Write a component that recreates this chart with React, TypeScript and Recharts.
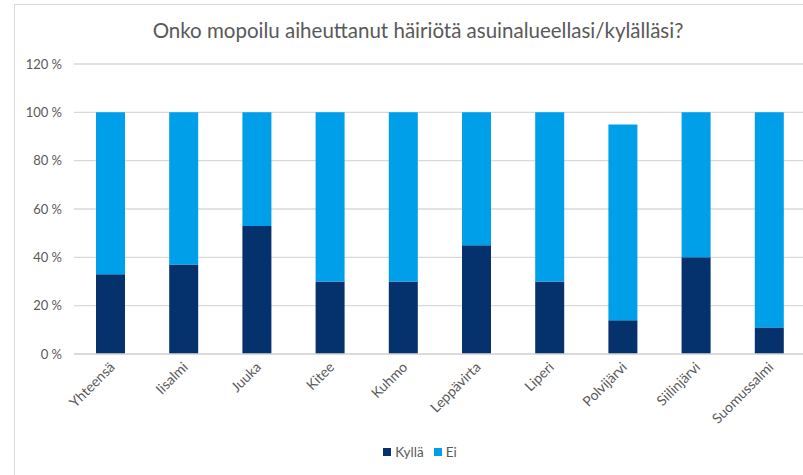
import React from "react";
import { BarChart, Bar, XAxis, YAxis, CartesianGrid } from "recharts";

const categories = ["Yhteensä", "Iisalmi", "Juuka", "Kitee", "Kuhmo", "Leppävirta", "Liperi", "Polvijärvi", "Siilinjärvi", "Suomussalmi"];
const kylla = [33, 37, 53, 30, 30, 45, 30, 14, 40, 11];
const ei = [67, 63, 47, 70, 70, 55, 70, 81, 60, 89];
const yTicks = [0, 20, 40, 60, 80, 100, 120];

const data = categories.map((name, i) => ({ name, kylla: kylla[i], ei: ei[i] }));

const FONT = "Lato, 'Open Sans', sans-serif";
const GREY = "#595959";
const DARK = "#05316D";
const LIGHT = "#009FEA";

function XTick({ x, y, payload }: any) {
  return (
    <text
      x={x + 5}
      y={y + 6}
      textAnchor="end"
      transform={`rotate(-45, ${x + 5}, ${y + 6})`}
      fill={GREY}
      fontSize={14}
      fontFamily={FONT}
    >
      {payload.value}
    </text>
  );
}

function LegendBox() {
  const items = [
    { label: "Kyllä", color: DARK },
    { label: "Ei", color: LIGHT },
  ];
  return (
    <div style={{ position: "absolute", left: 0, top: 444, width: 850, display: "flex", justifyContent: "center", fontFamily: FONT, fontSize: 13.5, color: GREY }}>
      {items.map((it) => (
        <div key={it.label} style={{ display: "flex", alignItems: "center", marginRight: 10 }}>
          <span style={{ width: 8, height: 8, background: it.color, display: "inline-block", marginRight: 4 }} />
          {it.label}
        </div>
      ))}
    </div>
  );
}

export default function App() {
  return (
    <div style={{ position: "fixed", left: 0, top: 0, width: 803, height: 475, overflow: "hidden", background: "#fff" }}>
      <div style={{ position: "absolute", left: 14, top: 4, width: 900, height: 500, borderLeft: "1.5px solid #d9d9d9", borderTop: "1.5px solid #d9d9d9" }} />
      <div style={{ position: "absolute", left: 0, top: 18, width: 836, textAlign: "center", fontFamily: FONT, fontSize: 20.5, color: GREY }}>
        Onko mopoilu aiheuttanut häiriötä asuinalueellasi/kylälläsi?
      </div>
      <div style={{ position: "absolute", left: 0, top: 0 }}>
        <BarChart width={830} height={475} data={data} margin={{ top: 64, right: 24, bottom: 0, left: 0 }} barSize={29}>
          <CartesianGrid vertical={false} stroke="#d9d9d9" strokeWidth={1.3} />
          <XAxis
            dataKey="name"
            tick={<XTick />}
            tickLine={false}
            axisLine={{ stroke: "#d9d9d9", strokeWidth: 1.3 }}
            interval={0}
            height={121}
          />
          <YAxis
            width={74}
            domain={[0, 120]}
            ticks={yTicks}
            tickFormatter={(v: number) => `${v} %`}
            tickLine={false}
            axisLine={false}
            tickMargin={6}
            tick={{ fill: GREY, fontSize: 13, fontFamily: FONT }}
          />
          <Bar dataKey="kylla" name="Kyllä" stackId="a" fill={DARK} isAnimationActive={false} />
          <Bar dataKey="ei" name="Ei" stackId="a" fill={LIGHT} isAnimationActive={false} />
        </BarChart>
      </div>
      <LegendBox />
    </div>
  );
}
